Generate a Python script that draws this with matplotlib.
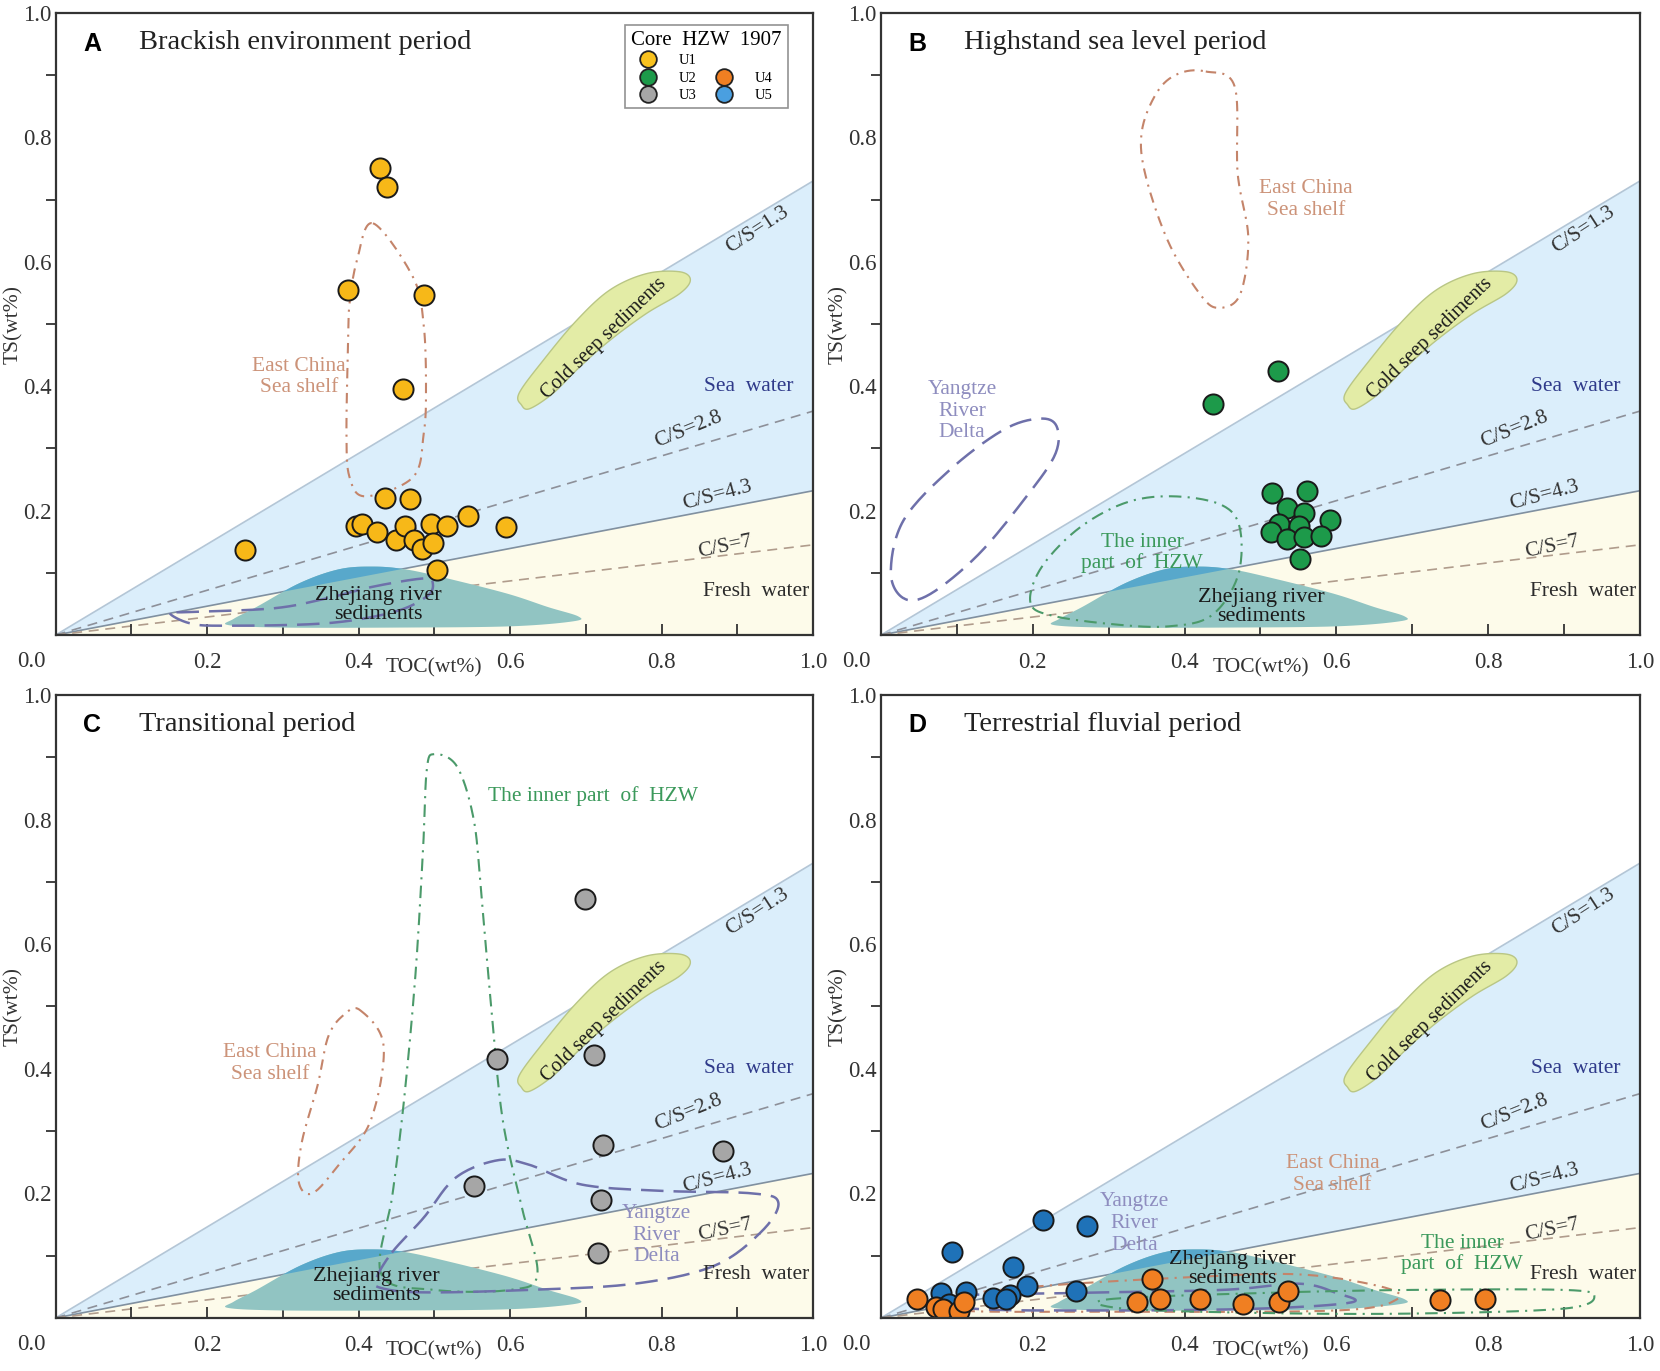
import numpy as np
import matplotlib
matplotlib.use("Agg")
import matplotlib.pyplot as plt
from matplotlib.patches import Polygon
from matplotlib.lines import Line2D

SERIF = "Liberation Serif"
plt.rcParams["font.family"] = SERIF

# ---- C/S reference lines (TS value reached at TOC = 1.0)
cs_labels = ["C/S=1.3", "C/S=2.8", "C/S=4.3", "C/S=7"]
cs_ts_end = [0.73, 0.36, 0.232, 0.145]

# ---- sample data (TOC, TS)
u1_toc = [0.428, 0.437, 0.386, 0.486, 0.458, 0.435, 0.468, 0.250, 0.396, 0.405,
          0.424, 0.449, 0.461, 0.473, 0.484, 0.496, 0.498, 0.517, 0.544, 0.595, 0.503]
u1_ts = [0.751, 0.721, 0.554, 0.547, 0.395, 0.221, 0.218, 0.137, 0.176, 0.178,
         0.165, 0.153, 0.175, 0.153, 0.139, 0.179, 0.148, 0.176, 0.192, 0.174, 0.105]

u2_toc = [0.437, 0.523, 0.515, 0.562, 0.535, 0.558, 0.592, 0.525, 0.551, 0.514,
          0.535, 0.558, 0.580, 0.552]
u2_ts = [0.371, 0.425, 0.229, 0.231, 0.204, 0.197, 0.185, 0.179, 0.176, 0.165,
         0.155, 0.157, 0.160, 0.122]

u3_toc = [0.699, 0.583, 0.711, 0.723, 0.881, 0.552, 0.720, 0.716]
u3_ts = [0.673, 0.415, 0.422, 0.277, 0.268, 0.211, 0.190, 0.105]

u4_toc = [0.047, 0.072, 0.082, 0.103, 0.110, 0.337, 0.357, 0.368, 0.421, 0.477,
          0.524, 0.536, 0.736, 0.796]
u4_ts = [0.030, 0.018, 0.014, 0.011, 0.025, 0.025, 0.062, 0.030, 0.030, 0.023,
         0.025, 0.043, 0.028, 0.030]

u5_toc = [0.093, 0.214, 0.272, 0.174, 0.193, 0.079, 0.112, 0.089, 0.147, 0.170,
          0.165, 0.257]
u5_ts = [0.106, 0.158, 0.148, 0.082, 0.051, 0.040, 0.041, 0.023, 0.032, 0.037,
         0.030, 0.043]

# ---- reference fields (outline vertices, TOC / TS)
zj_toc = [0.228, 0.30, 0.45, 0.60, 0.683, 0.69, 0.65, 0.595, 0.507, 0.46, 0.42,
          0.375, 0.323, 0.265, 0.235]
zj_ts = [0.016, 0.012, 0.012, 0.014, 0.022, 0.030, 0.045, 0.067, 0.094, 0.106,
         0.110, 0.106, 0.084, 0.045, 0.026]

seep_toc = [0.612, 0.644, 0.688, 0.732, 0.780, 0.824, 0.838, 0.824, 0.780, 0.732,
            0.692, 0.657, 0.626, 0.615]
seep_ts = [0.389, 0.442, 0.506, 0.555, 0.581, 0.584, 0.571, 0.549, 0.517, 0.474,
           0.431, 0.389, 0.364, 0.370]

# panel A
ecs_a_toc = [0.419, 0.472, 0.486, 0.489, 0.486, 0.472, 0.409, 0.388, 0.384, 0.386, 0.388, 0.398]
ecs_a_ts = [0.662, 0.575, 0.498, 0.394, 0.324, 0.254, 0.223, 0.254, 0.324, 0.463, 0.533, 0.603]
yrd_a_toc = [0.151, 0.177, 0.221, 0.358, 0.446, 0.490, 0.498, 0.486, 0.420, 0.358, 0.288, 0.177]
yrd_a_ts = [0.035, 0.019, 0.015, 0.019, 0.037, 0.062, 0.083, 0.091, 0.078, 0.059, 0.043, 0.037]

# panel B
ecs_b_toc = [0.428, 0.466, 0.470, 0.484, 0.473, 0.445, 0.421, 0.379, 0.348, 0.344, 0.365, 0.393]
ecs_b_ts = [0.906, 0.882, 0.742, 0.638, 0.547, 0.526, 0.547, 0.631, 0.742, 0.812, 0.875, 0.903]
yrd_b_toc = [0.030, 0.013, 0.030, 0.093, 0.163, 0.211, 0.232, 0.229, 0.190, 0.128, 0.065]
yrd_b_ts = [0.059, 0.101, 0.185, 0.268, 0.331, 0.348, 0.334, 0.289, 0.220, 0.129, 0.066]
hzw_b_toc = [0.197, 0.211, 0.260, 0.323, 0.386, 0.449, 0.473, 0.470, 0.435, 0.379, 0.309, 0.226]
hzw_b_ts = [0.052, 0.108, 0.171, 0.213, 0.223, 0.209, 0.171, 0.094, 0.031, 0.014, 0.017, 0.031]

# panel C
ecs_c_toc = [0.402, 0.433, 0.416, 0.374, 0.339, 0.321, 0.325, 0.346, 0.360, 0.381]
ecs_c_ts = [0.494, 0.437, 0.317, 0.246, 0.200, 0.218, 0.282, 0.374, 0.452, 0.487]
hzw_c_toc = [0.430, 0.445, 0.460, 0.475, 0.485, 0.490, 0.500, 0.530, 0.552, 0.562,
             0.575, 0.590, 0.615, 0.636, 0.600, 0.500]
hzw_c_ts = [0.070, 0.200, 0.350, 0.550, 0.750, 0.880, 0.905, 0.885, 0.800, 0.680,
            0.500, 0.320, 0.180, 0.070, 0.045, 0.045]
yrd_c_toc = [0.444, 0.486, 0.528, 0.583, 0.625, 0.695, 0.800, 0.919, 0.954, 0.933,
             0.870, 0.765, 0.625, 0.486, 0.430, 0.423]
yrd_c_ts = [0.105, 0.161, 0.225, 0.253, 0.246, 0.214, 0.204, 0.200, 0.186, 0.140,
            0.084, 0.055, 0.045, 0.041, 0.048, 0.062]

# panel D
ecs_d_toc = [0.07, 0.20, 0.40, 0.55, 0.66, 0.68, 0.60, 0.30, 0.10]
ecs_d_ts = [0.030, 0.050, 0.065, 0.070, 0.050, 0.030, 0.012, 0.010, 0.012]
yrd_d_toc = [0.10, 0.25, 0.45, 0.55, 0.60, 0.62, 0.50, 0.30, 0.12]
yrd_d_ts = [0.035, 0.040, 0.045, 0.055, 0.040, 0.025, 0.015, 0.012, 0.015]
hzw_d_toc = [0.30, 0.50, 0.70, 0.90, 0.94, 0.90, 0.70, 0.50, 0.32]
hzw_d_ts = [0.030, 0.040, 0.045, 0.045, 0.035, 0.015, 0.007, 0.008, 0.015]

# ---- styles
C_U1, C_U2, C_U3, C_U4, C_U5 = "#f7b818", "#1d9a4a", "#a6a6a6", "#f07f22", "#1f72b8"
C_BLUE, C_CREAM = "#dbeefb", "#fdfbea"
C_ECS, C_YRD, C_HZW = "#c4846a", "#6e70aa", "#4b9a6a"
T_ECS, T_YRD, T_HZW = "#cc9379", "#8e8dbf", "#3b995b"
LS_ECS = (0, (5, 3, 1, 3))
LS_YRD = (0, (9, 4))
LS_HZW = (0, (6, 3, 1, 3))


def smooth_closed(xs, ys, n=16):
    # closed Catmull-Rom curve through outline vertices
    p = np.column_stack([xs, ys])
    m = len(p)
    t = np.linspace(0, 1, n, endpoint=False)[:, None]
    out = []
    for i in range(m):
        p0, p1, p2, p3 = p[i - 1], p[i], p[(i + 1) % m], p[(i + 2) % m]
        out.append(0.5 * (2 * p1 + (-p0 + p2) * t
                          + (2 * p0 - 5 * p1 + 4 * p2 - p3) * t ** 2
                          + (-p0 + 3 * p1 - 3 * p2 + p3) * t ** 3))
    out = np.vstack(out)
    return np.vstack([out, out[:1]])


def outline(ax, xs, ys, color, ls, lw=1.5):
    c = smooth_closed(xs, ys)
    ax.plot(c[:, 0], c[:, 1], color=color, ls=ls, lw=lw, zorder=3)


def base(ax, letter, title, zj_xy):
    ax.set_xlim(0, 1)
    ax.set_ylim(0, 1)
    # water fields
    blue = Polygon([(0, 0), (1, cs_ts_end[0]), (1, cs_ts_end[2])], closed=True,
                   fc=C_BLUE, ec="none", zorder=0)
    ax.add_patch(blue)
    ax.add_patch(Polygon([(0, 0), (1, cs_ts_end[2]), (1, 0)], closed=True,
                         fc=C_CREAM, ec="none", zorder=0))
    xx = np.array([0, 1])
    ax.plot(xx, xx * cs_ts_end[0], color="#b4c6d6", lw=1.2, zorder=1)
    ax.plot(xx, xx * cs_ts_end[1], color="#8d9099", lw=1.2, ls=(0, (6, 4)), zorder=1)
    ax.plot(xx, xx * cs_ts_end[2], color="#8090a0", lw=1.2, zorder=1)
    ax.plot(xx, xx * cs_ts_end[3], color="#b09c8c", lw=1.2, ls=(0, (6, 4)), zorder=1)

    # cold seep field
    s = smooth_closed(seep_toc, seep_ts)
    ax.add_patch(Polygon(s, closed=True, fc="#e3eca6", ec="#b9c685", lw=1.0, zorder=2))
    ax.text(0.724, 0.476, "Cold seep sediments", rotation=44, ha="center", va="center",
            fontsize=14.5, color="#1a1a1a", zorder=4)

    # Zhejiang river field
    z = smooth_closed(zj_toc, zj_ts, n=10)
    ax.add_patch(Polygon(z, closed=True, fc="#91c4c2", ec="none", zorder=2))
    cap = Polygon(z, closed=True, fc="#58a8cb", ec="none", zorder=2.1)
    ax.add_patch(cap)
    cap.set_clip_path(blue)
    ax.text(zj_xy[0], zj_xy[1], "Zhejiang river\nsediments", ha="center", va="center",
            fontsize=16, color="#1a1a1a", linespacing=1.0, zorder=4)

    # line labels
    ax.text(0.926, 0.652, cs_labels[0], rotation=33, ha="center", va="center",
            fontsize=15.5, color="#333333", zorder=4)
    ax.text(0.835, 0.330, cs_labels[1], rotation=22, ha="center", va="center",
            fontsize=15.5, color="#333333", zorder=4)
    ax.text(0.874, 0.224, cs_labels[2], rotation=15, ha="center", va="center",
            fontsize=15.5, color="#333333", zorder=4)
    ax.text(0.884, 0.141, cs_labels[3], rotation=12, ha="center", va="center",
            fontsize=15.5, color="#333333", zorder=4)
    ax.text(0.915, 0.40, "Sea  water", ha="center", va="center", fontsize=15.5,
            color="#2f3a8a", zorder=4)
    ax.text(0.925, 0.07, "Fresh  water", ha="center", va="center", fontsize=15.5,
            color="#2b2b2b", zorder=4)

    ax.text(0.048, 0.951, letter, transform=ax.transAxes, ha="center", va="center",
            fontsize=18, fontweight="bold", family="Liberation Sans", zorder=6)
    ax.text(0.11, 0.953, title, transform=ax.transAxes, ha="left", va="center",
            fontsize=20.5, color="#222222", zorder=6)

    # axes
    for sp in ax.spines.values():
        sp.set_color("#333333")
        sp.set_linewidth(1.6)
        sp.set_zorder(7)
    ax.set_xticks([0.2, 0.4, 0.6, 0.8, 1.0])
    ax.set_xticklabels(["0.2", "0.4", "0.6", "0.8", "1.0"])
    ax.set_xticks([0.1, 0.3, 0.5, 0.7, 0.9], minor=True)
    ax.set_yticks([0.2, 0.4, 0.6, 0.8, 1.0])
    ax.set_yticklabels(["0.2", "0.4", "0.6", "0.8", "1.0"])
    ax.set_yticks([0.1, 0.3, 0.5, 0.7, 0.9], minor=True)
    ax.tick_params(axis="x", which="both", direction="in", length=8, width=1.3,
                   color="#333333", labelsize=16.5, pad=12, labelcolor="#333333")
    ax.tick_params(axis="y", which="major", length=0, pad=3, labelsize=16.5,
                   labelcolor="#333333")
    ax.tick_params(axis="y", which="minor", direction="out", length=7, width=1.3,
                   color="#333333")
    ax.text(-0.032, -0.042, "0.0", transform=ax.transAxes, ha="center", va="center",
            fontsize=16.5, color="#333333")
    ax.text(0.5, -0.053, "TOC(wt%)", transform=ax.transAxes, ha="center", va="center",
            fontsize=15.5, color="#333333")
    ax.text(-0.056, 0.5, "TS(wt%)", transform=ax.transAxes, ha="center", va="center",
            rotation=90, fontsize=15.5, color="#333333")


def pts(ax, x, y, c):
    ax.scatter(x, y, s=210, c=c, edgecolors="#1a1a1a", linewidths=1.4, zorder=5)


fig = plt.figure(figsize=(16.6, 13.71), dpi=100)
axA = fig.add_axes([0.0335, 0.5368, 0.4563, 0.4537])
axB = fig.add_axes([0.5307, 0.5368, 0.4572, 0.4537])
axC = fig.add_axes([0.0335, 0.0387, 0.4563, 0.4544])
axD = fig.add_axes([0.5307, 0.0387, 0.4572, 0.4544])

# A
base(axA, "A", "Brackish environment period", (0.426, 0.049))
outline(axA, ecs_a_toc, ecs_a_ts, C_ECS, LS_ECS)
outline(axA, yrd_a_toc, yrd_a_ts, C_YRD, LS_YRD, lw=1.8)
axA.text(0.321, 0.415, "East China\nSea shelf", ha="center", va="center", fontsize=15.5,
         color=T_ECS, zorder=4)
pts(axA, u1_toc, u1_ts, C_U1)
handles = [
    Line2D([], [], ls="none", marker="o", ms=12, mfc="#f9c21e", mec="#222222", mew=1.3),
    Line2D([], [], ls="none", marker="o", ms=12, mfc=C_U2, mec="#222222", mew=1.3),
    Line2D([], [], ls="none", marker="o", ms=12, mfc=C_U3, mec="#222222", mew=1.3),
    Line2D([], [], ls="none", marker="none"),
    Line2D([], [], ls="none", marker="o", ms=12, mfc=C_U4, mec="#222222", mew=1.3),
    Line2D([], [], ls="none", marker="o", ms=12, mfc="#4a9fe0", mec="#222222", mew=1.3),
]
leg = axA.legend(handles, ["U1", "U2", "U3", "", "U4", "U5"], ncol=2,
                 title="Core  HZW  1907", loc="upper right",
                 bbox_to_anchor=(0.976, 0.993), fontsize=10.5, title_fontsize=15,
                 frameon=True, fancybox=False, edgecolor="#777777",
                 handletextpad=1.6, columnspacing=1.4, labelspacing=0.3,
                 borderpad=0.4, handlelength=1.0)
leg.get_frame().set_linewidth(1.2)
leg.set_zorder(8)

# B
base(axB, "B", "Highstand sea level period", (0.501, 0.045))
outline(axB, ecs_b_toc, ecs_b_ts, C_ECS, LS_ECS)
outline(axB, yrd_b_toc, yrd_b_ts, C_YRD, LS_YRD, lw=1.8)
outline(axB, hzw_b_toc, hzw_b_ts, C_HZW, LS_HZW)
axB.text(0.56, 0.70, "East China\nSea shelf", ha="center", va="center", fontsize=15.5,
         color=T_ECS, zorder=4)
axB.text(0.107, 0.36, "Yangtze\nRiver\nDelta", ha="center", va="center", fontsize=15.5,
         color=T_YRD, zorder=4)
axB.text(0.344, 0.132, "The inner\npart  of  HZW", ha="center", va="center", fontsize=15.5,
         color=T_HZW, linespacing=1.1, zorder=4)
pts(axB, u2_toc, u2_ts, C_U2)

# C
base(axC, "C", "Transitional period", (0.423, 0.052))
outline(axC, ecs_c_toc, ecs_c_ts, C_ECS, LS_ECS)
outline(axC, hzw_c_toc, hzw_c_ts, C_HZW, LS_HZW)
outline(axC, yrd_c_toc, yrd_c_ts, C_YRD, LS_YRD, lw=1.8)
axC.text(0.709, 0.837, "The inner part  of  HZW", ha="center", va="center", fontsize=15.5,
         color=T_HZW, zorder=4)
axC.text(0.283, 0.409, "East China\nSea shelf", ha="center", va="center", fontsize=15.5,
         color=T_ECS, zorder=4)
axC.text(0.793, 0.133, "Yangtze\nRiver\nDelta", ha="center", va="center", fontsize=15.5,
         color=T_YRD, zorder=4)
pts(axC, u3_toc, u3_ts, C_U3)

# D
base(axD, "D", "Terrestrial fluvial period", (0.463, 0.078))
outline(axD, ecs_d_toc, ecs_d_ts, C_ECS, LS_ECS)
outline(axD, yrd_d_toc, yrd_d_ts, C_YRD, LS_YRD, lw=1.8)
outline(axD, hzw_d_toc, hzw_d_ts, C_HZW, LS_HZW)
axD.text(0.334, 0.152, "Yangtze\nRiver\nDelta", ha="center", va="center", fontsize=15.5,
         color=T_YRD, zorder=4)
axD.text(0.595, 0.23, "East China\nSea shelf", ha="center", va="center", fontsize=15.5,
         color=T_ECS, zorder=4)
axD.text(0.766, 0.103, "The inner\npart  of  HZW", ha="center", va="center", fontsize=15.5,
         color=T_HZW, linespacing=1.1, zorder=4)
pts(axD, u5_toc, u5_ts, C_U5)
pts(axD, u4_toc, u4_ts, C_U4)

fig.savefig("out.png", dpi=100)
